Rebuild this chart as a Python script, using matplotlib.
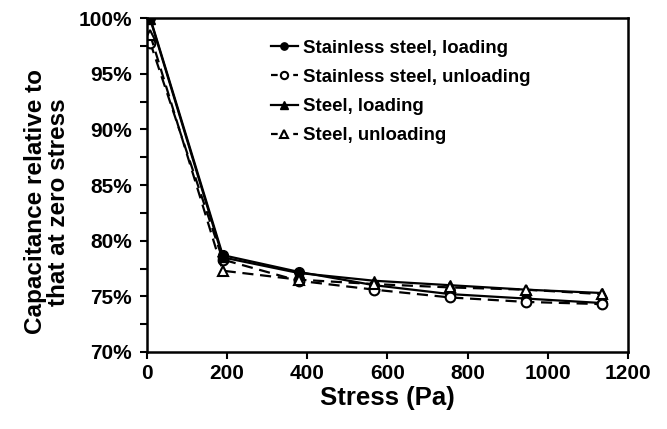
import matplotlib
matplotlib.use("Agg")
import matplotlib.pyplot as plt
from matplotlib.ticker import MultipleLocator, FuncFormatter

plt.rcParams['font.family'] = ['Liberation Sans', 'DejaVu Sans']
plt.rcParams['font.weight'] = 'bold'

stress = [8, 189, 378, 567, 756, 945, 1134]
ss_loading = [100.0, 78.7, 77.2, 76.0, 75.2, 74.8, 74.4]
ss_unloading = [97.8, 78.3, 76.4, 75.6, 74.9, 74.5, 74.3]
steel_loading = [99.9, 78.5, 77.1, 76.4, 76.0, 75.6, 75.3]
steel_unloading = [98.5, 77.3, 76.5, 76.1, 75.8, 75.6, 75.2]
labels = ["Stainless steel, loading", "Stainless steel, unloading",
          "Steel, loading", "Steel, unloading"]

fig = plt.figure(figsize=(6.67, 4.29), dpi=100)
ax = fig.add_axes([0.2204, 0.1795, 0.7211, 0.7785])

kw = dict(color='black', lw=1.6, markersize=7)
ax.plot(stress, ss_loading, '-', marker='o', mfc='black', label=labels[0], **kw)
ax.plot(stress, ss_unloading, '--', marker='o', mfc='white', mew=1.5, label=labels[1], dashes=(5, 3), **kw)
ax.plot(stress, steel_loading, '-', marker='^', mfc='black', label=labels[2], **kw)
ax.plot(stress, steel_unloading, '--', marker='^', mfc='white', mew=1.5, label=labels[3], dashes=(5, 3), **kw)

ax.set_xlim(0, 1200)
ax.set_ylim(70, 100)
ax.xaxis.set_major_locator(MultipleLocator(200))
ax.yaxis.set_major_locator(MultipleLocator(5))
ax.yaxis.set_minor_locator(MultipleLocator(2.5))
ax.yaxis.set_major_formatter(FuncFormatter(lambda v, p: f"{v:.0f}%"))
ax.tick_params(axis='both', which='major', direction='out', length=5, width=1.5, labelsize=15)
ax.tick_params(axis='y', which='major', pad=6)
ax.tick_params(axis='y', which='minor', direction='out', length=5, width=1.5)
for lab in ax.get_xticklabels() + ax.get_yticklabels():
    lab.set_fontweight('bold')
for s in ax.spines.values():
    s.set_linewidth(1.8)

ax.set_xlabel("Stress (Pa)", fontsize=18.5, fontweight='bold', labelpad=2)
ax.set_ylabel("Capacitance relative to\nthat at zero stress", fontsize=17.5, fontweight='bold',
              labelpad=5, linespacing=1.0)
ax.yaxis.set_label_coords(-0.16, 0.45)

leg = ax.legend(loc='upper right', bbox_to_anchor=(0.833, 0.985), frameon=False,
                prop={'size': 13.4, 'weight': 'bold'}, handlelength=1.45, markerscale=0.75,
                labelspacing=0.65, handletextpad=0.3)
for i, ln in enumerate(leg.get_lines()):
    if i in (1, 3):
        ln.set_dashes((3, 7))

fig.savefig("out.png", dpi=100)
